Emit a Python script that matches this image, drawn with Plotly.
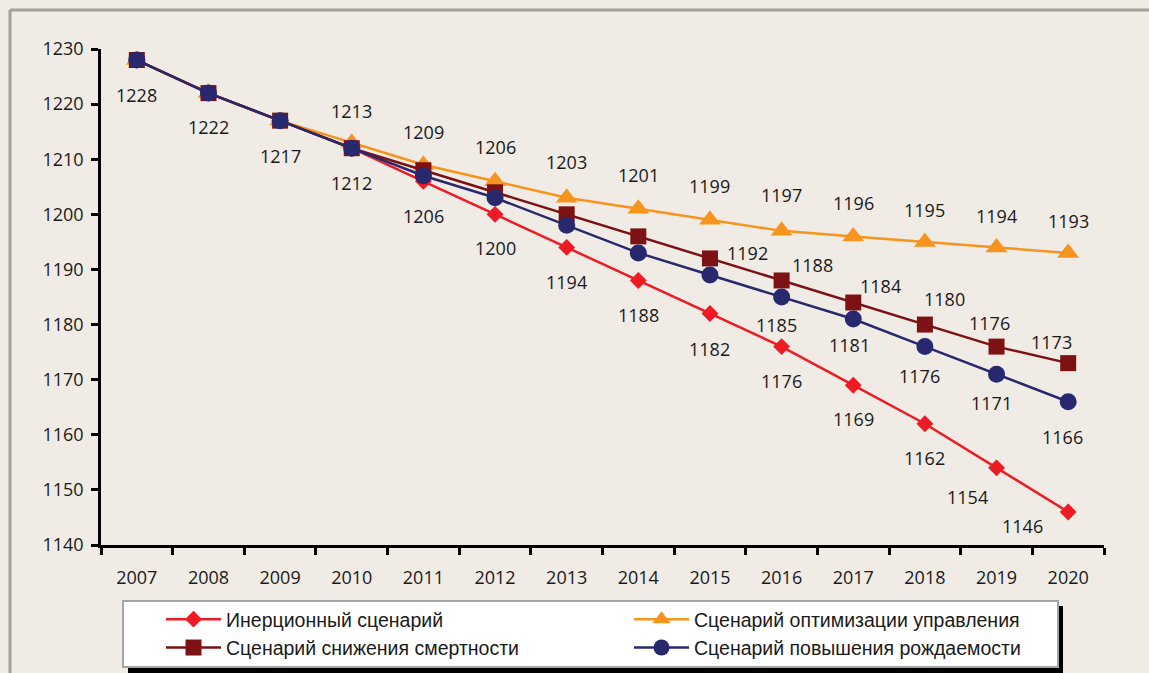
import plotly.graph_objects as go

years = ["2007", "2008", "2009", "2010", "2011", "2012", "2013",
         "2014", "2015", "2016", "2017", "2018", "2019", "2020"]

inertial = [1228, 1222, 1217, 1212, 1206, 1200, 1194, 1188, 1182, 1176, 1169, 1162, 1154, 1146]
optimization = [1228, 1222, 1217, 1213, 1209, 1206, 1203, 1201, 1199, 1197, 1196, 1195, 1194, 1193]
mortality = [1228, 1222, 1217, 1212, 1208, 1204, 1200, 1196, 1192, 1188, 1184, 1180, 1176, 1173]
birth = [1228, 1222, 1217, 1212, 1207, 1203, 1198, 1193, 1189, 1185, 1181, 1176, 1171, 1166]

names = ["Инерционный сценарий", "Сценарий оптимизации управления",
         "Сценарий снижения смертности", "Сценарий повышения рождаемости"]

y_ticks = [1140, 1150, 1160, 1170, 1180, 1190, 1200, 1210, 1220, 1230]

# label offsets in pixels (dx, dy up) per point; None = no label
lab_inertial = [(0, -35), (0, -34), (0, -35), (0, -35), (0, -35), (0, -34), (0, -35),
                (0, -35), (0, -35), (0, -34), (0, -34), (0, -34), (-29, -29), (-46, -14)]
lab_optim = [None, None, None, (0, 32), (0, 33), (0, 34), (0, 36),
             (0, 34), (0, 34), (0, 36), (0, 33), (0, 32), (0, 31), (0, 32)]
lab_mort = [None] * 8 + [(38, 5), (31, 15), (27, 17), (20, 26), (-7, 24), (-17, 21)]
lab_birth = [None] * 9 + [(-5, -28), (-4, -26), (-5, -29), (-5, -29), (-6, -35)]

BG = "#F0EBE4"
FONT = "Open Sans"

# plot area in pixels
L, R, T, B = 101, 1104, 49, 545
W, H = R - L, B - T


def px2x(p):
    return (p - L) / W


def py2y(p):
    return (B - p) / H


series = [
    (inertial, names[0], "#ED1C24", "diamond", 13, lab_inertial),
    (optimization, names[1], "#F7941D", "triangle-up", 19, lab_optim),
    (mortality, names[2], "#7D1214", "square", 16, lab_mort),
    (birth, names[3], "#28286E", "circle", 17, lab_birth),
]

fig = go.Figure()
annotations = []
for vals, name, color, sym, size, labs in series:
    fig.add_trace(go.Scatter(
        x=years, y=vals, name=name, mode="lines+markers",
        line=dict(color=color, width=2.5),
        marker=dict(symbol=sym, size=size, color=color, line=dict(width=0)),
    ))
    for i, (v, off) in enumerate(zip(vals, labs)):
        if off is None:
            continue
        annotations.append(dict(
            x=i, y=v, xref="x", yref="y", text=str(v), showarrow=False,
            xshift=off[0], yshift=off[1],
            font=dict(family=FONT, size=18, color="#1A1A1A"),
        ))

shapes = [
    # outer frame
    dict(type="line", xref="paper", yref="paper", x0=px2x(10), x1=px2x(10),
         y0=py2y(10), y1=py2y(720), line=dict(color="#A0A09C", width=3)),
    dict(type="line", xref="paper", yref="paper", x0=px2x(10), x1=px2x(1200),
         y0=py2y(10), y1=py2y(10), line=dict(color="#A0A09C", width=3)),
    # legend shadow and box
    dict(type="rect", xref="paper", yref="paper", x0=px2x(128), x1=px2x(1063),
         y0=py2y(606), y1=py2y(680), fillcolor="black", line=dict(width=0)),
    dict(type="rect", xref="paper", yref="paper", x0=px2x(123), x1=px2x(1058),
         y0=py2y(601), y1=py2y(667), fillcolor="white",
         line=dict(color="#A6A6A6", width=2)),
]

fig.update_layout(
    width=1149, height=673,
    margin=dict(l=L, r=1149 - R, t=T, b=673 - B, autoexpand=False),
    paper_bgcolor=BG, plot_bgcolor=BG,
    font=dict(family=FONT, size=18, color="#1A1A1A"),
    showlegend=True,
    legend=dict(
        orientation="h", x=px2x(161), y=py2y(600), xanchor="left", yanchor="top",
        bgcolor="rgba(0,0,0,0)", borderwidth=0,
        entrywidth=398, entrywidthmode="pixels", itemwidth=55,
        font=dict(family="Liberation Sans", size=19.5, color="#1A1A1A"),
        traceorder="normal",
    ),
    xaxis=dict(
        type="category", range=[-0.5, 13.5], tickson="boundaries",
        showline=True, linecolor="black", linewidth=2.5,
        ticks="outside", ticklen=7, tickwidth=2.5, tickcolor="black",
        showgrid=False, zeroline=False, ticklabelstandoff=15,
        tickfont=dict(family=FONT, size=18, color="#1A1A1A"),
    ),
    yaxis=dict(
        range=[1140, 1230], tickvals=y_ticks,
        showline=True, linecolor="black", linewidth=2.5,
        ticks="outside", ticklen=7, tickwidth=2.5, tickcolor="black",
        showgrid=False, zeroline=False, ticklabelstandoff=4,
        tickfont=dict(family=FONT, size=18, color="#1A1A1A"),
    ),
    shapes=shapes,
    annotations=annotations,
)

fig.write_html(
    "out.html",
    config={"displayModeBar": False},
    post_script="document.body.style.margin='0px';document.body.style.overflow='hidden';",
)
